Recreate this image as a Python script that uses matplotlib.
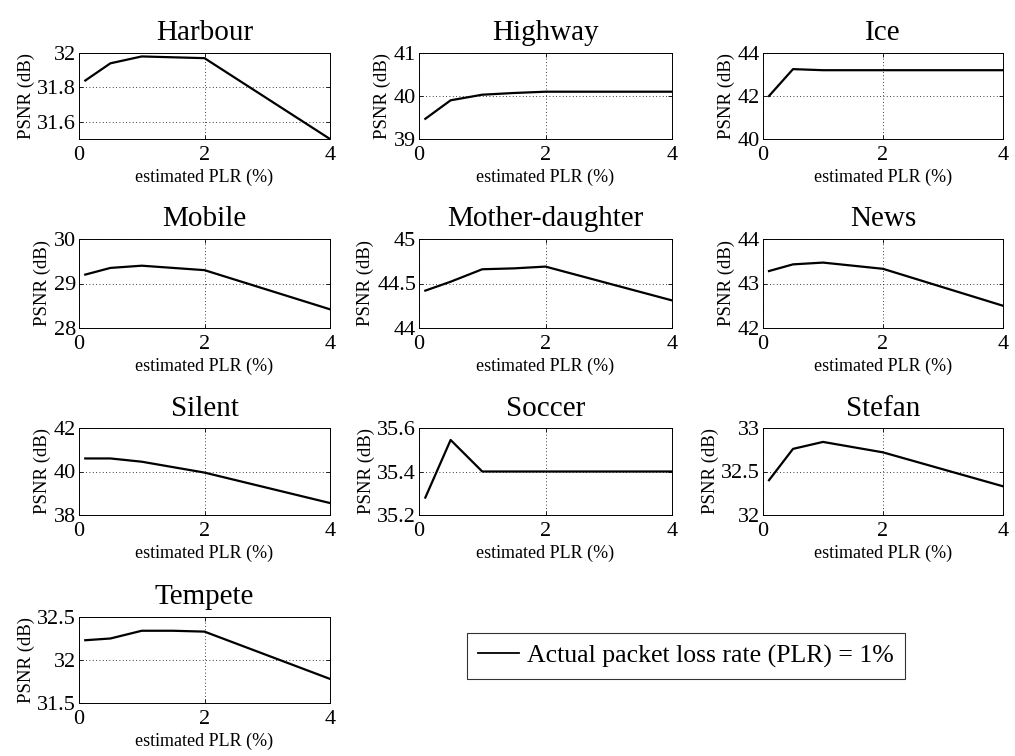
import matplotlib
matplotlib.use("Agg")
import matplotlib.pyplot as plt
from matplotlib.lines import Line2D

plt.rcParams["font.family"] = ["Liberation Serif", "DejaVu Serif"]

# estimated PLR (%)
plr = [0.1, 0.5, 1.0, 1.5, 2.0, 4.0]

names = ["Harbour", "Highway", "Ice", "Mobile", "Mother-daughter", "News",
         "Silent", "Soccer", "Stefan", "Tempete"]

harbour = [31.84, 31.94, 31.98, 31.975, 31.97, 31.50]
highway = [39.47, 39.90, 40.03, 40.07, 40.10, 40.10]
ice = [42.00, 43.25, 43.20, 43.20, 43.20, 43.20]
mobile = [29.20, 29.35, 29.40, 29.35, 29.30, 28.42]
mother = [44.42, 44.52, 44.66, 44.67, 44.69, 44.31]
news = [43.28, 43.43, 43.47, 43.40, 43.33, 42.50]
silent = [40.60, 40.60, 40.45, 40.20, 39.95, 38.55]
soccer = [35.28, 35.545, 35.40, 35.40, 35.40, 35.40]
stefan = [32.40, 32.76, 32.84, 32.78, 32.72, 32.33]
tempete = [32.23, 32.25, 32.34, 32.34, 32.33, 31.78]
series = [harbour, highway, ice, mobile, mother, news, silent, soccer, stefan, tempete]

yticks = [
    ([31.6, 31.8, 32.0], ["31.6", "31.8", "32"]),
    ([39, 40, 41], ["39", "40", "41"]),
    ([40, 42, 44], ["40", "42", "44"]),
    ([28, 29, 30], ["28", "29", "30"]),
    ([44, 44.5, 45], ["44", "44.5", "45"]),
    ([42, 43, 44], ["42", "43", "44"]),
    ([38, 40, 42], ["38", "40", "42"]),
    ([35.2, 35.4, 35.6], ["35.2", "35.4", "35.6"]),
    ([32, 32.5, 33], ["32", "32.5", "33"]),
    ([31.5, 32, 32.5], ["31.5", "32", "32.5"]),
]
ylims = [(31.5, 32.0), (39, 41), (40, 44), (28, 30), (44, 45), (42, 44),
         (38, 42), (35.2, 35.6), (32, 33), (31.5, 32.5)]

W, H = 1015, 756
fig = plt.figure(figsize=(W / 100, H / 100), dpi=100)

col_x = [(79, 330), (419, 672), (763, 1003)]
row_y = [(53, 139), (239, 328), (428, 515), (617, 703)]

for i, name in enumerate(names):
    r, c = divmod(i, 3)
    x0, x1 = col_x[c]
    y0, y1 = row_y[r]
    ax = fig.add_axes([x0 / W, 1 - y1 / H, (x1 - x0) / W, (y1 - y0) / H])
    ax.plot(plr, series[i], color="black", linewidth=1.6)
    ax.set_xlim(0, 4)
    ax.set_ylim(*ylims[i])
    ax.set_xticks([0, 2, 4])
    ax.set_xticklabels(["0", "2", "4"])
    ax.set_yticks(yticks[i][0])
    ax.set_yticklabels(yticks[i][1])
    ax.tick_params(direction="in", length=3, width=0.6, labelsize=16,
                   top=True, right=True)
    ax.tick_params(axis="x", pad=5)
    ax.tick_params(axis="y", pad=2)
    ax.grid(True, linestyle=(0, (1, 3)), color="black", linewidth=0.6)
    for s in ax.spines.values():
        s.set_linewidth(0.7)
    ax.set_title(name, fontsize=21, pad=9)
    ax.set_xlabel("estimated PLR (%)", fontsize=13, labelpad=3)
    ax.set_ylabel("PSNR (dB)", fontsize=13.5, labelpad=2)

handle = Line2D([], [], color="black", linewidth=1.3)
leg = fig.legend([handle], ["Actual packet loss rate (PLR) = 1%"],
                 loc="center", bbox_to_anchor=(686 / W, 1 - 656 / H),
                 fontsize=18.5, frameon=True, fancybox=False, edgecolor="black",
                 handlelength=1.6, handletextpad=0.3, borderpad=0.45,
                 borderaxespad=0)
leg.get_frame().set_linewidth(0.8)

fig.savefig("out.png", dpi=100)
